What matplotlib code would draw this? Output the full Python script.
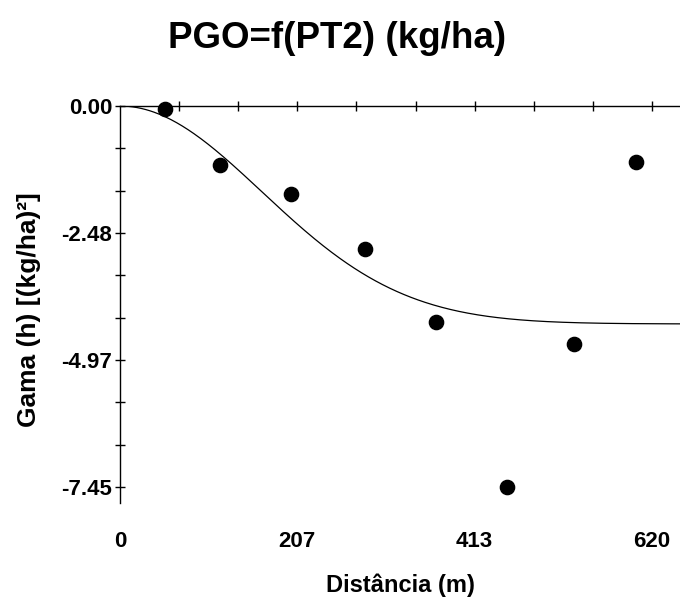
import numpy as np
import matplotlib
matplotlib.use("Agg")
import matplotlib.pyplot as plt

# Experimental semivariogram (lag distance in m, semivariance)
lag_m = [52.4, 116.6, 199.0, 285.5, 368.6, 451.0, 529.5, 601.4]
gamma = [-0.06, -1.15, -1.72, -2.80, -4.22, -7.45, -4.65, -1.10]

# Fitted Gaussian model parameters
model_sill = -4.26
model_range = 405.0

x_tick_vals = [0, 620 / 3, 2 * 620 / 3, 620]
x_tick_labels = ["0", "207", "413", "620"]
y_tick_vals = [0.0, -7.45 / 3, -2 * 7.45 / 3, -7.45]
y_tick_labels = ["0.00", "-2.48", "-4.97", "-7.45"]

plt.rcParams["font.family"] = ["Liberation Sans", "DejaVu Sans"]
plt.rcParams["font.weight"] = "bold"

fig = plt.figure(figsize=(6.8, 5.98), dpi=100)
ax = fig.add_axes([120 / 680, 1 - 503 / 598, 1 - 120 / 680, (503 - 106) / 598])

h = np.linspace(0, 660, 400)
model = model_sill * (1 - np.exp(-3 * h ** 2 / model_range ** 2))
ax.plot(h, model, color="black", lw=0.9)
ax.scatter(lag_m, gamma, s=105, color="black", zorder=3, clip_on=False)

ax.set_xlim(0, 652.6)
ax.set_ylim(-7.76, 0)

for side in ("right", "bottom"):
    ax.spines[side].set_visible(False)
for side in ("left", "top"):
    ax.spines[side].set_linewidth(1.0)

# Distance labels sit below the plot, without tick marks
ax.set_xticks(x_tick_vals)
ax.set_xticklabels(x_tick_labels, fontsize=16, fontweight="bold")
ax.tick_params(axis="x", which="both", length=0, pad=20)

# Tick marks along the zero line
top = ax.secondary_xaxis("top")
top.set_xticks([620 * k / 9 for k in range(1, 10)])
top.set_xticklabels([])
top.tick_params(direction="inout", length=7, width=1)
top.spines["top"].set_visible(False)

ax.set_yticks(y_tick_vals)
ax.set_yticklabels(y_tick_labels, fontsize=16, fontweight="bold")
ax.set_yticks([-7.45 / 9 * k for k in range(1, 10) if k % 3], minor=True)
ax.tick_params(axis="y", which="both", direction="inout", length=7, width=1, pad=2)

fig.text(400 / 680, 1 - 585 / 598, "Distância (m)", ha="center", va="center",
         fontsize=17, fontweight="bold")
fig.text(29 / 680, 1 - 310 / 598, "Gama (h) [(kg/ha)²]", ha="center", va="center",
         rotation=90, fontsize=19, fontweight="bold")

fig.text(0.495, 1 - 39 / 598, "PGO=f(PT2) (kg/ha)", ha="center", va="center",
         fontsize=26.5, fontweight="bold")

fig.savefig("out.png", dpi=100)
